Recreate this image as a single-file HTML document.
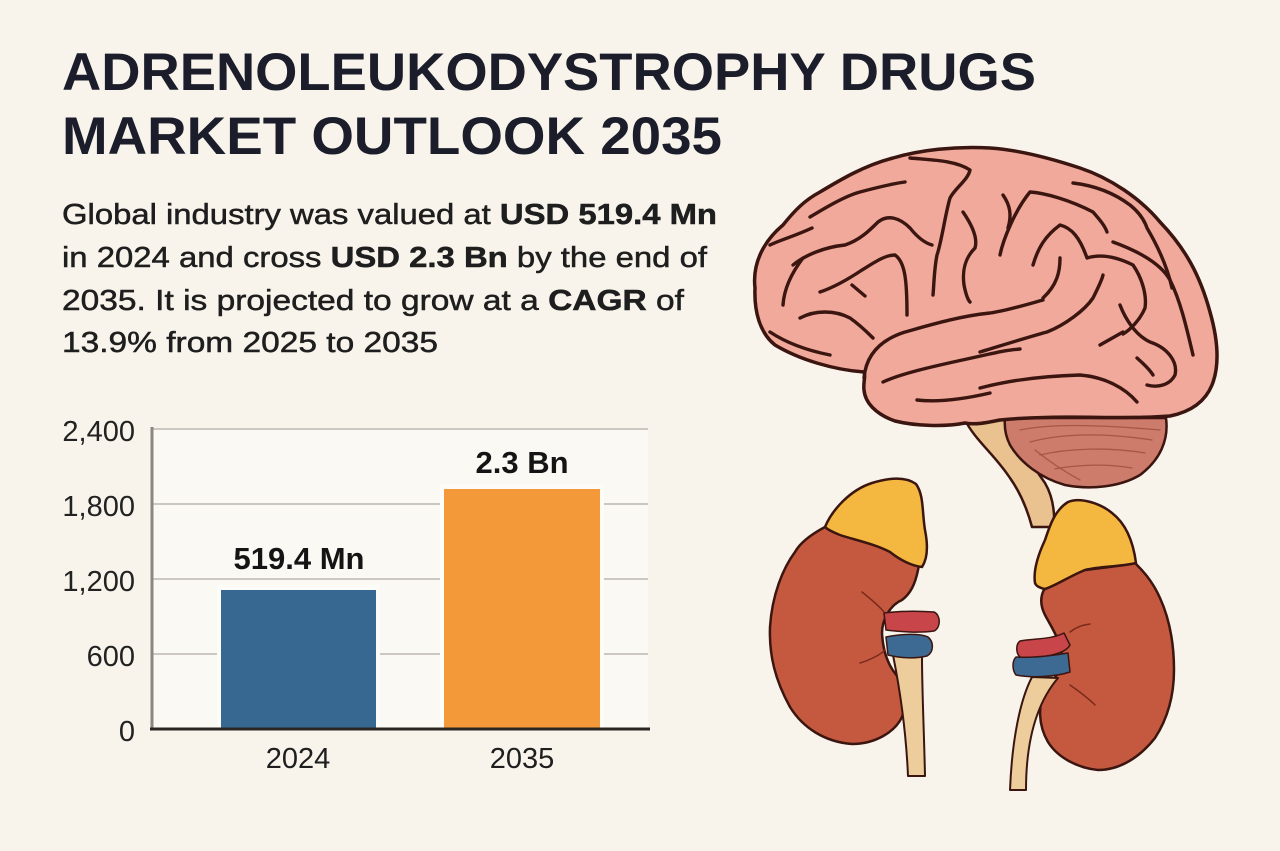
<!DOCTYPE html>
<html>
<head>
<meta charset="utf-8">
<style>
  html,body{margin:0;padding:0;background:#f8f4ec;}
  svg{display:block;}
  text{font-family:"Liberation Sans", Arial, sans-serif;}
</style>
</head>
<body>
<svg width="1280" height="851" viewBox="0 0 1280 851" xmlns="http://www.w3.org/2000/svg">
  <rect x="0" y="0" width="1280" height="851" fill="#f8f4ec"/>

  <!-- Title -->
  <text x="62" y="90" font-size="53" font-weight="bold" fill="#1b1d2b" textLength="974" lengthAdjust="spacingAndGlyphs">ADRENOLEUKODYSTROPHY DRUGS</text>
  <text x="62" y="154" font-size="53" font-weight="bold" fill="#1b1d2b" textLength="660" lengthAdjust="spacingAndGlyphs">MARKET OUTLOOK 2035</text>

  <!-- Paragraph -->
  <g font-size="29" fill="#1e1e1e" stroke="#1e1e1e" stroke-width="0.5">
    <text x="62" y="224" textLength="655" lengthAdjust="spacingAndGlyphs">Global industry was valued at <tspan font-weight="bold">USD 519.4 Mn</tspan></text>
    <text x="62" y="267" textLength="645" lengthAdjust="spacingAndGlyphs">in 2024 and cross <tspan font-weight="bold">USD 2.3 Bn</tspan> by the end of</text>
    <text x="62" y="310" textLength="622" lengthAdjust="spacingAndGlyphs">2035. It is projected to grow at a <tspan font-weight="bold">CAGR</tspan> of</text>
    <text x="62" y="352" textLength="376" lengthAdjust="spacingAndGlyphs">13.9% from 2025 to 2035</text>
  </g>

  <!-- Chart -->
  <rect x="152" y="428" width="496" height="301" fill="#fbf9f4"/>
  <g stroke="#bcb8b0" stroke-width="1.6">
    <line x1="152" y1="429" x2="648" y2="429"/>
    <line x1="152" y1="504" x2="648" y2="504"/>
    <line x1="152" y1="579" x2="648" y2="579"/>
    <line x1="152" y1="654" x2="648" y2="654"/>
  </g>
  <g font-size="29" fill="#222" text-anchor="end">
    <text x="135" y="441">2,400</text>
    <text x="135" y="516">1,800</text>
    <text x="135" y="591">1,200</text>
    <text x="135" y="666">600</text>
    <text x="135" y="741">0</text>
  </g>
  <!-- bars -->
  <rect x="217" y="585" width="163" height="144" fill="#fdfcf9"/>
  <rect x="221" y="590" width="155" height="139" fill="#376892"/>
  <rect x="440" y="484" width="164" height="245" fill="#fdfcf9"/>
  <rect x="444" y="489" width="156" height="240" fill="#f4993a"/>
  <!-- axes -->
  <line x1="152" y1="427" x2="152" y2="730" stroke="#8c8680" stroke-width="3"/>
  <line x1="150" y1="729" x2="650" y2="729" stroke="#2b2622" stroke-width="3"/>
  <!-- labels -->
  <g font-size="31" font-weight="bold" fill="#141414" text-anchor="middle">
    <text x="299" y="569">519.4 Mn</text>
    <text x="522" y="473">2.3 Bn</text>
  </g>
  <g font-size="29" fill="#1e1e1e" text-anchor="middle">
    <text x="298" y="768">2024</text>
    <text x="522" y="768">2035</text>
  </g>

  <!-- Illustration -->
  <g stroke="#3b1510" stroke-linejoin="round" stroke-linecap="round">
    <!-- brainstem -->
    <path d="M965 420 C975 440, 995 455, 1010 478 C1022 495, 1028 512, 1032 527 L1054 527 C1055 510, 1052 495, 1045 483 C1032 465, 1020 445, 1013 420 Z" fill="#e9c28f" stroke-width="2.5"/>
    <!-- cerebellum -->
    <path d="M1005 418 L1166 418 C1169 440, 1160 460, 1140 475 C1120 487, 1090 490, 1065 485 C1040 478, 1020 462, 1010 445 C1006 437, 1004 428, 1005 418 Z" fill="#cd7b6b" stroke-width="2.5"/>
    <g fill="none" stroke="#a65646" stroke-width="1.3">
      <path d="M1020 430 C1050 424, 1090 424, 1160 430"/>
      <path d="M1030 442 C1060 434, 1100 432, 1152 440"/>
      <path d="M1040 455 C1070 448, 1110 447, 1145 453"/>
      <path d="M1055 469 C1080 464, 1110 464, 1132 468"/>
      <path d="M1035 450 C1050 462, 1065 472, 1080 480"/>
    </g>
    <!-- cerebrum -->
    <path d="M755 288 C752 262, 765 240, 783 225 C795 210, 805 200, 820 192 C840 180, 865 165, 893 158 C920 150, 955 146, 990 148 C1020 150, 1050 158, 1080 168 C1110 178, 1140 198, 1160 222 C1185 248, 1200 275, 1210 312 C1218 340, 1220 365, 1212 385 C1205 402, 1190 412, 1170 416 C1120 420, 1060 414, 1000 420 C985 423, 975 425, 965 423 C945 427, 915 426, 895 421 C875 414, 865 402, 864 390 C863 382, 866 376, 864 372 C835 370, 800 360, 775 345 C760 333, 754 312, 755 288 Z" fill="#f0a99b" stroke-width="3.5"/>
    <g fill="none" stroke-width="3.4">
      <!-- temporal lobe boundary -->
      <path d="M864 378 C866 355, 880 340, 905 332 C930 325, 960 316, 990 313 C1005 311, 1025 305, 1043 300"/>
      <path d="M810 217 C825 208, 845 196, 860 192 S890 184, 905 182"/>
      <path d="M910 158 C930 160, 955 160, 970 170 C968 180, 955 188, 950 198 C945 215, 942 240, 937 255 C934 270, 934 285, 933 295"/>
      <path d="M770 245 C780 240, 795 236, 812 228"/>
      <path d="M793 265 C805 255, 825 247, 845 245 C860 240, 870 230, 878 222 C888 214, 900 218, 910 228 C918 238, 925 243, 932 245"/>
      <path d="M783 305 C784 290, 790 275, 803 258"/>
      <path d="M820 292 C835 287, 850 278, 862 270 C875 262, 885 255, 895 255 C905 262, 907 280, 907 315"/>
      <path d="M852 285 L865 296"/>
      <path d="M800 318 C815 310, 835 310, 850 318 C860 325, 868 333, 873 338"/>
      <path d="M770 332 C785 342, 805 350, 830 355"/>
      <path d="M963 212 C972 225, 978 238, 975 248 C965 258, 962 270, 964 285 C966 295, 968 300, 970 302"/>
      <path d="M883 382 C900 374, 930 367, 967 359 S1000 351, 1020 349"/>
      <path d="M917 400 C935 402, 960 400, 990 393"/>
      <path d="M1000 255 C1003 240, 1015 210, 1030 192 C1045 193, 1070 200, 1093 212 C1100 220, 1105 226, 1107 232"/>
      <path d="M1073 183 C1090 185, 1110 190, 1130 205 C1140 213, 1145 222, 1147 228 C1160 250, 1168 270, 1172 288"/>
      <path d="M1033 265 C1038 248, 1045 236, 1060 225 C1072 228, 1080 238, 1087 258 C1100 254, 1115 256, 1133 265 C1142 278, 1147 295, 1145 308 C1140 320, 1130 330, 1123 334"/>
      <path d="M1060 258 C1060 272, 1057 285, 1043 298"/>
      <path d="M1113 242 C1135 250, 1160 262, 1170 280 C1180 300, 1186 325, 1193 355"/>
      <path d="M1120 305 C1125 318, 1135 335, 1150 342 C1168 348, 1178 362, 1175 375 C1170 385, 1158 388, 1147 385"/>
      <path d="M980 352 C1000 346, 1025 338, 1047 332 C1065 325, 1085 310, 1093 298 C1098 288, 1102 280, 1103 275"/>
      <path d="M980 388 C1010 380, 1045 376, 1080 375 C1105 377, 1125 388, 1137 402"/>
      <path d="M1137 358 C1145 365, 1150 370, 1153 375"/>
      <path d="M1100 345 L1123 332"/>
      <path d="M1003 195 C1010 205, 1012 215, 1008 228"/>
    </g>

    <!-- Left kidney -->
    <path d="M825 527 C810 535, 800 543, 795 552 C783 568, 772 595, 770 627 C769 655, 775 680, 790 707 C803 728, 825 742, 852 744 C875 744, 895 732, 902 717 C908 702, 906 688, 898 677 C890 668, 883 655, 882 633 C882 620, 890 605, 902 600 C910 594, 915 585, 918 570 C920 560, 922 550, 925 540 Z" fill="#c4593f" stroke-width="2.5"/>
    <path d="M893 655 C900 690, 906 730, 908 776 L925 776 C924 730, 922 690, 922 657 Z" fill="#eccd9b" stroke-width="2"/>
    <path d="M825 527 C832 510, 850 490, 872 483 C888 478, 905 476, 916 484 C924 495, 922 512, 925 530 C928 545, 928 558, 922 567 C912 566, 900 560, 890 552 C875 544, 855 540, 840 535 C833 532, 828 530, 825 527 Z" fill="#f4b740" stroke-width="2.5"/>
    <path d="M884 613 C900 611, 920 611, 934 612 C941 615, 941 628, 934 631 C920 633, 900 632, 886 630 Z" fill="#c8464a" stroke-width="1.5"/>
    <path d="M886 637 C900 634, 920 633, 928 637 C934 642, 934 652, 927 656 C915 659, 900 658, 888 655 Z" fill="#3c6a93" stroke-width="1.5"/>
    <g fill="none" stroke="#7a2a1c" stroke-width="1.5">
      <path d="M862 592 C872 600, 880 607, 884 612"/>
      <path d="M860 663 C870 660, 880 655, 885 650"/>
    </g>

    <!-- Right kidney -->
    <path d="M1045 588 C1040 596, 1040 605, 1045 615 C1052 628, 1060 640, 1062 655 C1062 668, 1055 680, 1045 690 C1038 705, 1038 725, 1048 742 C1058 758, 1078 768, 1098 770 C1120 770, 1140 757, 1155 738 C1168 718, 1174 695, 1174 670 C1174 645, 1170 620, 1160 598 C1152 580, 1142 570, 1135 563 C1120 566, 1100 568, 1085 570 C1070 575, 1055 585, 1045 588 Z" fill="#c4593f" stroke-width="2.5"/>
    <path d="M1032 677 C1020 700, 1012 740, 1010 790 L1026 790 C1026 745, 1035 705, 1058 678 Z" fill="#eccd9b" stroke-width="2"/>
    <path d="M1035 583 C1033 570, 1038 555, 1045 540 C1050 525, 1055 510, 1068 502 C1080 497, 1100 503, 1112 513 C1125 523, 1133 540, 1136 563 C1120 567, 1100 566, 1085 570 C1070 576, 1055 586, 1045 589 C1040 588, 1036 586, 1035 583 Z" fill="#f4b740" stroke-width="2.5"/>
    <path d="M1020 641 C1035 638, 1050 640, 1064 633 L1070 645 C1065 655, 1040 658, 1022 658 C1016 656, 1015 645, 1020 641 Z" fill="#c8464a" stroke-width="1.5"/>
    <path d="M1016 657 C1030 658, 1050 656, 1068 653 L1070 672 C1055 677, 1030 678, 1016 675 C1012 670, 1012 661, 1016 657 Z" fill="#3c6a93" stroke-width="1.5"/>
    <g fill="none" stroke="#7a2a1c" stroke-width="1.5">
      <path d="M1070 632 C1075 628, 1082 625, 1090 624"/>
      <path d="M1070 685 C1080 692, 1088 698, 1095 705"/>
    </g>
  </g>
</svg>
</body>
</html>
